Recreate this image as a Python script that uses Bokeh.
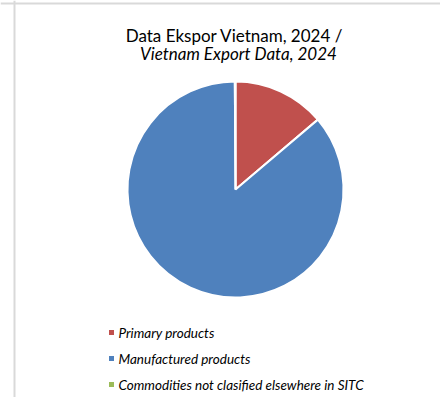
import numpy as np
from bokeh.plotting import figure
from bokeh.models import Range1d, Label, Span, ColumnDataSource
from bokeh.core.properties import value
from bokeh.embed import file_html
from bokeh.resources import INLINE

# ---- data ----
categories = ["Primary products", "Manufactured products",
              "Commodities not clasified elsewhere in SITC"]
shares = [13.8, 86.1, 0.1]
colors = ["#C0504D", "#4F81BD", "#9BBB59"]
title_line1 = "Data Ekspor Vietnam, 2024 /"
title_line2 = "Vietnam Export Data, 2024"

W, H = 440, 397
p = figure(width=W, height=H, output_backend="svg", toolbar_location=None,
           x_range=Range1d(0, W), y_range=Range1d(0, H),
           min_border=0, min_border_left=0, min_border_right=0,
           min_border_top=0, min_border_bottom=0)
p.axis.visible = False
p.grid.visible = False
p.outline_line_color = None
p.background_fill_color = "white"
p.border_fill_color = "white"

# chart-area frame (top and left edges visible)
p.add_layout(Span(location=14, dimension="height", line_color="#d9d9d9", line_width=2))
p.add_layout(Span(location=H - 3, dimension="width", line_color="#d9d9d9", line_width=2))

# ---- pie ----
frac = np.array(shares) / np.sum(shares)
cum = np.concatenate([[0], np.cumsum(frac)])
start = np.pi / 2 - cum[1:] * 2 * np.pi
end = np.pi / 2 - cum[:-1] * 2 * np.pi
src = ColumnDataSource(dict(start=start, end=end, color=colors))
cx, cy, r = 235, H - 189, 108
p.wedge(x=cx, y=cy, radius=r, start_angle="start", end_angle="end",
        fill_color="color", line_color="white", line_width=2, source=src)

# ---- title ----
p.add_layout(Label(x=234, y=H - 35, text=title_line1, text_align="center",
                   text_baseline="alphabetic", text_font="Lato",
                   text_font_size="17px", text_color="#000000"))
p.add_layout(Label(x=238, y=H - 53, text=title_line2, text_align="center",
                   text_baseline="alphabetic", text_font="Lato",
                   text_font_style="italic",
                   text_font_size="17px", text_color="#000000"))

# ---- legend ----
leg_y = [H - 332, H - 358, H - 384]
leg = ColumnDataSource(dict(x=[111] * 3, tx=[118] * 3, y=leg_y,
                            color=colors, label=categories))
p.scatter(x="x", y="y", marker="square", size=5, fill_color="color",
          line_color=None, source=leg)
p.text(x="tx", y="y", text="label", text_font=value("Lato"),
       text_font_style="italic", text_font_size="13.5px",
       text_baseline="middle", text_color="#000000", source=leg)

open("out.html", "w").write(file_html(p, INLINE))
